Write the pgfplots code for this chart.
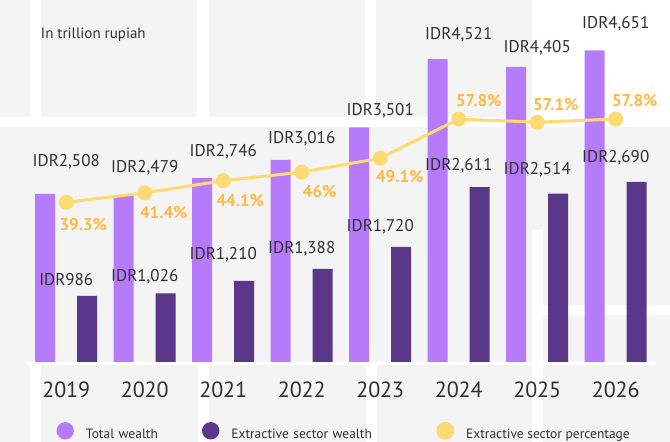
\documentclass[border=0pt]{standalone}
\usepackage{pgfplots}
\pgfplotsset{compat=1.18}
\usepackage{pgfplotstable}
\usepackage{fontspec}
\setmainfont{PT Sans}
\definecolor{bgc}{HTML}{F4F4F4}
\definecolor{totalc}{HTML}{B67BFB}
\definecolor{extc}{HTML}{5A3788}
\definecolor{linec}{HTML}{FFD972}
\definecolor{pctc}{HTML}{FFB844}
\definecolor{textc}{HTML}{2F2F2F}
\pgfplotstableread{
x total dyt ext dye pct dxp dyp
0 2508 32   986  16   39.3 17   -22
1 2479 28   1026 17   41.4 19   -19.7
2 2746 26   1210 26   44.1 17   -20
3 3016 21   1388 20.5 46   18   -19
4 3501 16.5 1720 20   49.1 19.5 -18
5 4521 24.5 2611 21.5 57.8 20   18.4
6 4405 19   2514 23.5 57.1 18.5 18
7 4651 26.5 2690 24   57.8 19   18.7
}\data
\begin{document}
\begin{tikzpicture}
\begin{scope}
\clip (0pt,0pt) rectangle (670pt,442pt);
\fill[bgc] (0pt,0pt) rectangle (670pt,442pt);
% decorative white strips
\fill[white] (30pt,442pt) rectangle (41pt,325pt);
\fill[white] (197pt,442pt) rectangle (209pt,325pt);
\fill[white] (365pt,442pt) rectangle (376pt,325pt);
\fill[white] (532pt,442pt) rectangle (670pt,325pt);
\fill[white] (0pt,325pt) rectangle (670pt,315pt);
\fill[white] (30pt,79pt) rectangle (41pt,0pt);
\fill[white] (198pt,79pt) rectangle (209pt,0pt);
\fill[white] (366pt,79pt) rectangle (377pt,0pt);
\fill[white] (532pt,212pt) rectangle (543pt,0pt);
\fill[white] (543pt,137pt) rectangle (670pt,127pt);
\fill[white] (27pt,80pt) rectangle (655pt,77pt);
\end{scope}
\node[anchor=west, inner sep=0pt, text=textc, font=\fontsize{15}{18}\selectfont] at (40.7pt,407pt) {In trillion rupiah};
\begin{axis}[
  at={(27pt,80pt)}, anchor=south west, scale only axis,
  width=628pt, height=332pt,
  xmin=-0.5, xmax=7.5, ymin=0, ymax=4955,
  axis y line=none, axis x line*=bottom, x axis line style={draw=none},
  xtick={0,...,7}, xticklabels={2019,2020,2021,2022,2023,2024,2025,2026},
  major tick length=0pt,
  xticklabel style={font=\fontsize{22}{26}\selectfont, text=textc, anchor=base, yshift=-35.7pt},
  clip=false,
  /pgf/number format/1000 sep={,},
  /pgf/number format/assume math mode=true,
  legend columns=3,
  legend cell align=left,
  legend style={at={(axis description cs:0.0471,-0.2078)}, anchor=west, draw=none, fill=none,
    inner sep=0pt, outer sep=0pt, font=\fontsize{13.5}{16}\selectfont, text=textc,
    nodes={inner sep=0pt},
    /tikz/every odd column/.append style={column sep=12pt},
    /tikz/every even column/.append style={column sep=0pt}},
]
\addplot[ybar, bar width=20pt, bar shift=-21pt, fill=totalc, draw=none,
  legend image code/.code={\fill[totalc] (8.7pt,3.8pt) circle (8.7pt);},
  point meta=y,
  nodes near coords={IDR\pgfmathprintnumber{\pgfplotspointmeta}},
  visualization depends on={\thisrow{dyt}\as\dy},
  every node near coord/.append style={font=\fontsize{17}{20}\selectfont, text=textc, anchor=center, yshift=\dy pt}]
  table[x=x, y=total] {\data};
\addlegendentry[text width=116pt]{Total wealth}
\addplot[ybar, bar width=20pt, bar shift=21pt, fill=extc, draw=none,
  legend image code/.code={\fill[extc] (8.7pt,3.8pt) circle (8.7pt);},
  point meta=y,
  nodes near coords={IDR\pgfmathprintnumber{\pgfplotspointmeta}},
  visualization depends on={\thisrow{dye}\as\dy},
  every node near coord/.append style={font=\fontsize{17}{20}\selectfont, text=textc, anchor=center, yshift=\dy pt}]
  table[x=x, y=ext] {\data};
\addlegendentry[text width=205pt]{Extractive sector wealth}
\addlegendimage{legend image code/.code={\fill[linec] (8.7pt,3.8pt) circle (8.7pt);}}
\addlegendentry{Extractive sector percentage}
\end{axis}
\begin{axis}[
  at={(27pt,80pt)}, anchor=south west, scale only axis,
  width=628pt, height=332pt,
  xmin=-0.5, xmax=7.5, ymin=3.8, ymax=77.6,
  hide axis, clip=false,
  /pgf/number format/assume math mode=true,
]
\addplot[linec, line width=3pt, mark=*, mark size=6pt, mark options={fill=linec, draw=none},
  point meta=y,
  nodes near coords={\pgfmathprintnumber[fixed,precision=1]{\pgfplotspointmeta}\%},
  visualization depends on={\thisrow{dxp}\as\dx},
  visualization depends on={\thisrow{dyp}\as\dy},
  every node near coord/.append style={font=\bfseries\fontsize{17}{20}\selectfont, text=pctc, anchor=center, xshift=\dx pt, yshift=\dy pt}]
  table[x=x, y=pct] {\data};
\end{axis}
\end{tikzpicture}
\end{document}
